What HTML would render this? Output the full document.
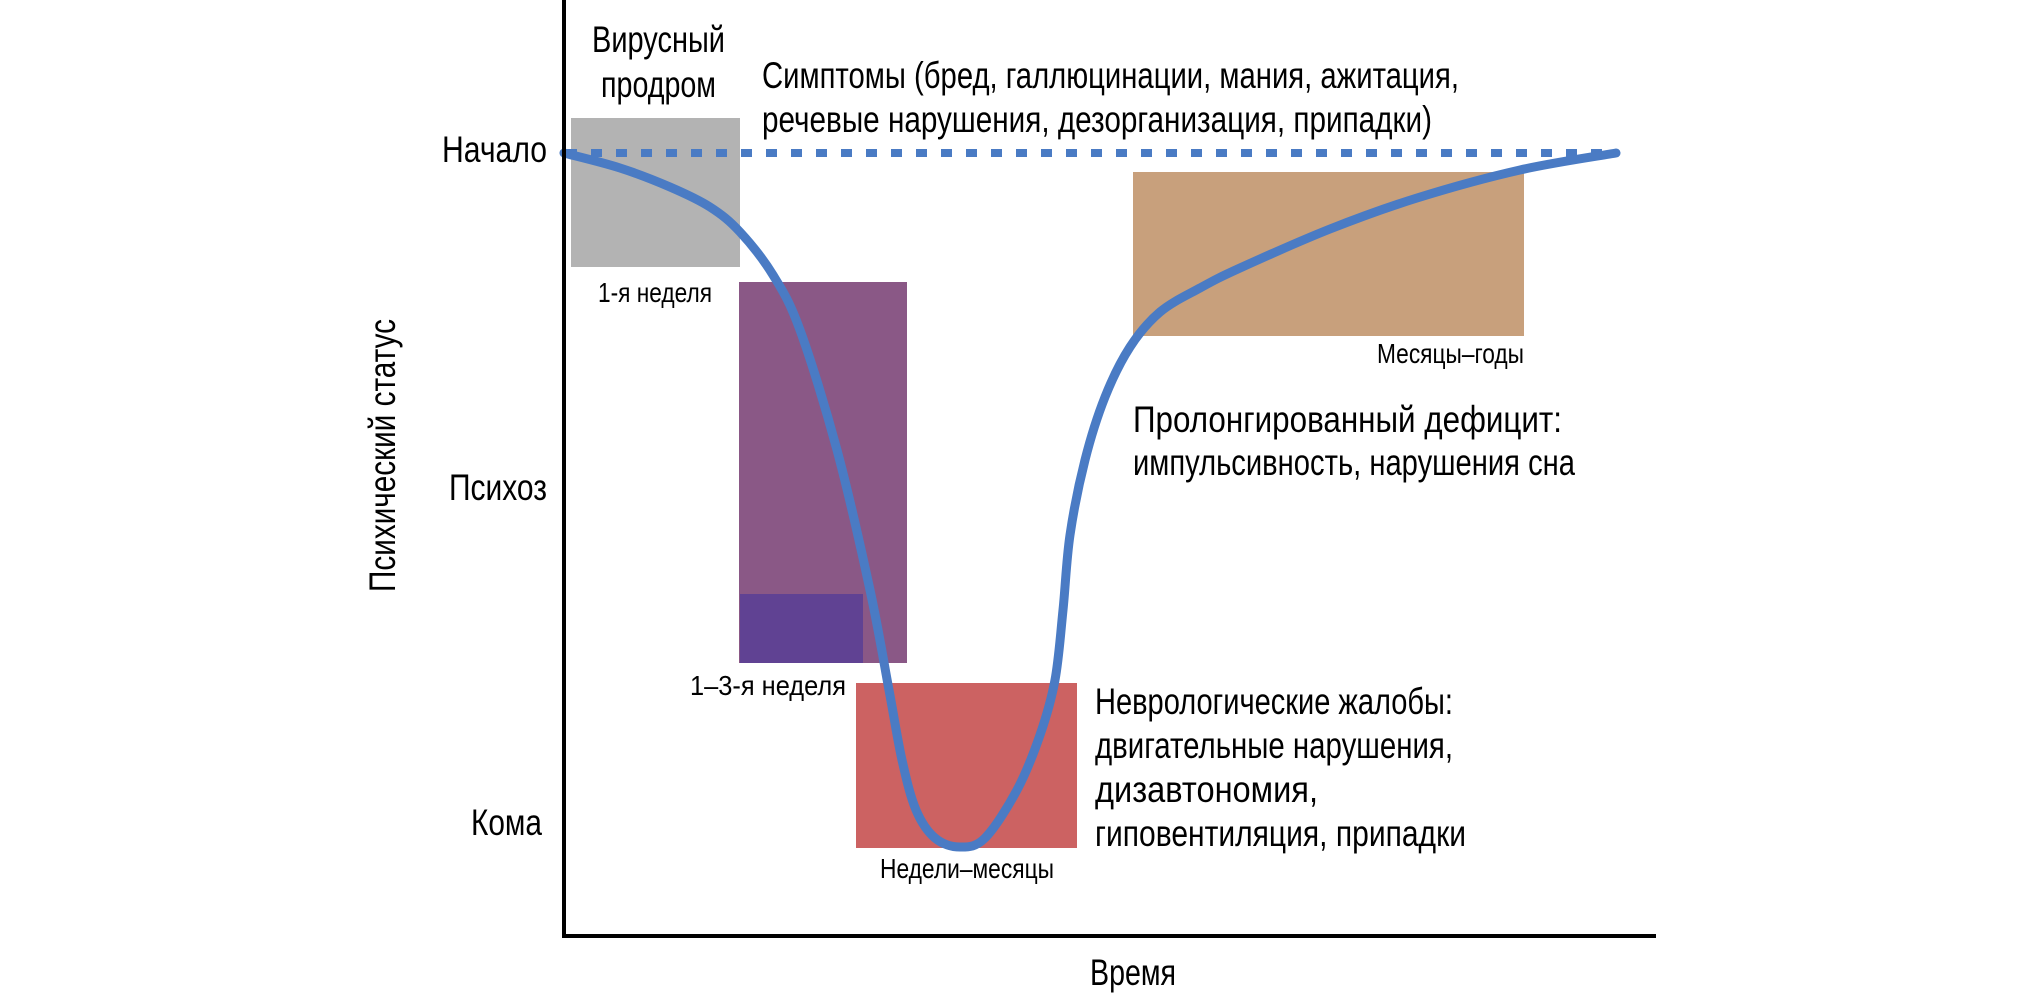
<!DOCTYPE html>
<html><head><meta charset="utf-8"><style>
html,body{margin:0;padding:0;background:#fff;}
svg{display:block;}
text{font-family:"Liberation Sans Narrow","Liberation Sans","DejaVu Sans",sans-serif;fill:#000;}
.b{font-size:37px;}
.s{font-size:28px;}
</style></head><body>
<svg width="2020" height="997" viewBox="0 0 2020 997" xmlns="http://www.w3.org/2000/svg">
<rect x="571" y="118" width="169" height="149" fill="#b3b3b3"/>
<rect x="739" y="282" width="168" height="381" fill="#8a5886"/>
<rect x="740" y="594" width="123" height="69" fill="#604293"/>
<rect x="856" y="683" width="221" height="165" fill="#cc6262"/>
<rect x="1133" y="172" width="391" height="164" fill="#c8a07c"/>
<line x1="566" y1="153" x2="1616" y2="153" stroke="#4a7bc4" stroke-width="8" stroke-dasharray="11 14"/>
<path id="curve" fill="none" stroke="#4a7bc4" stroke-width="9" stroke-linecap="round" stroke-linejoin="round"/>
<line x1="564" y1="0" x2="564" y2="938" stroke="#000" stroke-width="4"/>
<line x1="562" y1="936" x2="1656" y2="936" stroke="#000" stroke-width="4"/>

<text class="b" x="547" y="162" text-anchor="end" textLength="105" lengthAdjust="spacingAndGlyphs">Начало</text>
<text class="b" x="547" y="500" text-anchor="end" textLength="98" lengthAdjust="spacingAndGlyphs">Психоз</text>
<text class="b" x="542" y="835" text-anchor="end" textLength="71" lengthAdjust="spacingAndGlyphs">Кома</text>
<text class="b" x="1090" y="985" textLength="86" lengthAdjust="spacingAndGlyphs">Время</text>
<text class="b" transform="translate(395,592) rotate(-90)" textLength="273" lengthAdjust="spacingAndGlyphs">Психический статус</text>

<text class="b" x="592" y="52" textLength="133" lengthAdjust="spacingAndGlyphs">Вирусный</text>
<text class="b" x="601" y="97" textLength="115" lengthAdjust="spacingAndGlyphs">продром</text>
<text class="b" x="762" y="88" textLength="697" lengthAdjust="spacingAndGlyphs">Симптомы (бред, галлюцинации, мания, ажитация,</text>
<text class="b" x="762" y="132" textLength="670" lengthAdjust="spacingAndGlyphs">речевые нарушения, дезорганизация, припадки)</text>

<text class="s" x="598" y="302" textLength="114" lengthAdjust="spacingAndGlyphs">1-я неделя</text>
<text class="s" x="690" y="695" textLength="156" lengthAdjust="spacingAndGlyphs">1–3-я неделя</text>
<text class="s" x="880" y="878" textLength="174" lengthAdjust="spacingAndGlyphs">Недели–месяцы</text>
<text class="s" x="1377" y="363" textLength="147" lengthAdjust="spacingAndGlyphs">Месяцы–годы</text>

<text class="b" x="1133" y="432" textLength="429" lengthAdjust="spacingAndGlyphs">Пролонгированный дефицит:</text>
<text class="b" x="1133" y="475" textLength="442" lengthAdjust="spacingAndGlyphs">импульсивность, нарушения сна</text>

<text class="b" x="1095" y="714" textLength="358" lengthAdjust="spacingAndGlyphs">Неврологические жалобы:</text>
<text class="b" x="1095" y="758" textLength="358" lengthAdjust="spacingAndGlyphs">двигательные нарушения,</text>
<text class="b" x="1095" y="802" textLength="223" lengthAdjust="spacingAndGlyphs">дизавтономия,</text>
<text class="b" x="1095" y="846" textLength="371" lengthAdjust="spacingAndGlyphs">гиповентиляция, припадки</text>
</svg>
<script>
var p=[[564,153],[620,168],[670,187],[710,207],[740,232],[773,275],[800,330],[837,450],[870,590],[889,690],[902,760],[916,810],[935,838],[960,847],[985,838],[1017,790],[1040,735],[1055,680],[1063,610],[1070,535],[1085,460],[1105,397],[1130,347],[1160,312],[1200,288],[1240,268],[1330,229],[1417,198],[1520,170],[1616,153]];
var d="M"+p[0][0]+","+p[0][1];
for(var i=0;i<p.length-1;i++){var a=p[i>0?i-1:0],b=p[i],c=p[i+1],e=p[i+2<p.length?i+2:i+1];
d+=" C"+(b[0]+(c[0]-a[0])/6)+","+(b[1]+(c[1]-a[1])/6)+" "+(c[0]-(e[0]-b[0])/6)+","+(c[1]-(e[1]-b[1])/6)+" "+c[0]+","+c[1];}
document.getElementById("curve").setAttribute("d",d);
</script>
</body></html>
